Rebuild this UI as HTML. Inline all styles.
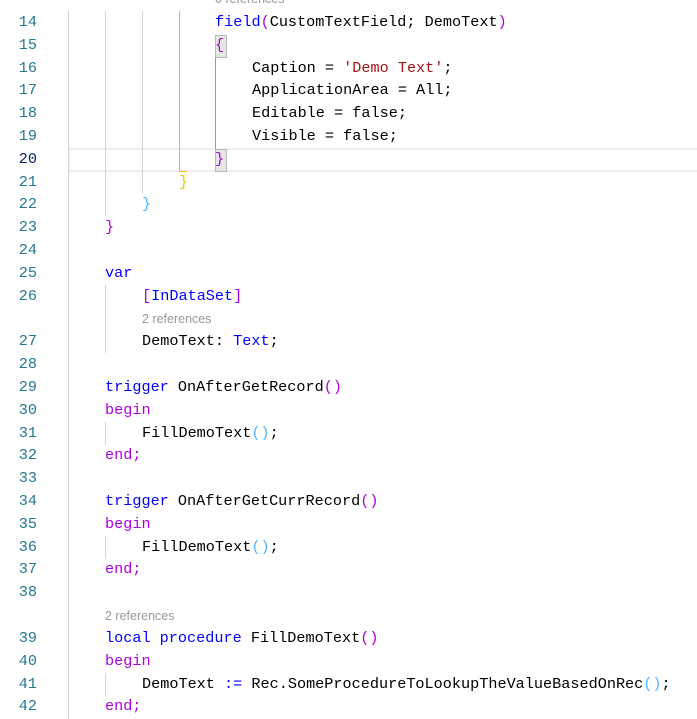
<!DOCTYPE html>
<html><head><style>
html,body{margin:0;padding:0;background:#fff;width:697px;height:719px;overflow:hidden;position:relative}
.r{position:absolute;left:0;height:23px;line-height:23px;white-space:pre;font-family:"Liberation Mono",monospace;font-size:15.2px;color:#000}
.n{position:absolute;width:37px;text-align:right;left:0;color:#237893;font-family:"Liberation Mono",monospace;font-size:15.2px}
.c{position:absolute}
.lens{position:absolute;font-family:"Liberation Sans",sans-serif;font-size:12.5px;color:#999;height:23px;line-height:23px}
.g{position:absolute;width:1px;background:#d3d3d3}
.k{color:#0000ff}.m{color:#af00db}.s{color:#a31515}.t{color:#267f99}.y{color:#f2c200}.b{color:#4fb5ff}
</style></head><body>
<div style="position:absolute;left:68px;top:148px;width:629px;height:20px;border:2px solid #eee;border-right:none"></div>
<div class="g" style="left:68px;top:11px;height:708px"></div>
<div class="g" style="left:105px;top:11px;height:205px"></div>
<div class="g" style="left:142px;top:11px;height:182px"></div>
<div style="position:absolute;left:179px;top:11px;width:1px;height:160px;background:#f2c200"></div>
<div style="position:absolute;left:179px;top:171px;width:8px;height:1px;background:#f2c200"></div>
<div style="position:absolute;left:215px;top:45px;width:1px;height:114px;background:#999"></div>
<div style="position:absolute;left:215px;top:35px;width:10px;height:21px;background:#e3e8e0;border:1px solid #b9b9b9"></div>
<div style="position:absolute;left:215px;top:149px;width:10px;height:21px;background:#e3e8e0;border:1px solid #b9b9b9"></div>
<div class="g" style="left:105px;top:285px;height:68px"></div>
<div class="g" style="left:105px;top:422px;height:23px"></div>
<div class="g" style="left:105px;top:536px;height:23px"></div>
<div class="g" style="left:105px;top:673px;height:23px"></div>

<div class="lens" style="left:215px;top:-12px">0 references</div>
<div class="lens" style="left:142px;top:308px">2 references</div>
<div class="lens" style="left:105px;top:605px">2 references</div>

<div class="r" style="top:11px"><span class="n">14</span><span class="c" style="left:215px"><span class="k">field</span><span class="m">(</span>CustomTextField; DemoText<span class="m">)</span></span></div>
<div class="r" style="top:34px"><span class="n">15</span><span class="c m" style="left:215px">{</span></div>
<div class="r" style="top:57px"><span class="n">16</span><span class="c" style="left:252px">Caption = <span class="s">'Demo Text'</span>;</span></div>
<div class="r" style="top:79px"><span class="n">17</span><span class="c" style="left:252px">ApplicationArea = All;</span></div>
<div class="r" style="top:102px"><span class="n">18</span><span class="c" style="left:252px">Editable = false;</span></div>
<div class="r" style="top:125px"><span class="n">19</span><span class="c" style="left:252px">Visible = false;</span></div>
<div class="r" style="top:148px"><span class="n" style="color:#0b216f">20</span><span class="c m" style="left:215px">}</span></div>
<div class="r" style="top:171px"><span class="n">21</span><span class="c y" style="left:179px">}</span></div>
<div class="r" style="top:193px"><span class="n">22</span><span class="c b" style="left:142px">}</span></div>
<div class="r" style="top:216px"><span class="n">23</span><span class="c m" style="left:105px">}</span></div>
<div class="r" style="top:239px"><span class="n">24</span></div>
<div class="r" style="top:262px"><span class="n">25</span><span class="c k" style="left:105px">var</span></div>
<div class="r" style="top:285px"><span class="n">26</span><span class="c" style="left:142px"><span class="m">[</span><span class="k">InDataSet</span><span class="m">]</span></span></div>
<div class="r" style="top:330px"><span class="n">27</span><span class="c" style="left:142px">DemoText: <span class="k">Text</span>;</span></div>
<div class="r" style="top:353px"><span class="n">28</span></div>
<div class="r" style="top:376px"><span class="n">29</span><span class="c" style="left:105px"><span class="k">trigger</span> OnAfterGetRecord<span class="m">()</span></span></div>
<div class="r" style="top:399px"><span class="n">30</span><span class="c m" style="left:105px">begin</span></div>
<div class="r" style="top:422px"><span class="n">31</span><span class="c" style="left:142px">FillDemoText<span class="b">()</span>;</span></div>
<div class="r" style="top:444px"><span class="n">32</span><span class="c m" style="left:105px">end;</span></div>
<div class="r" style="top:467px"><span class="n">33</span></div>
<div class="r" style="top:490px"><span class="n">34</span><span class="c" style="left:105px"><span class="k">trigger</span> OnAfterGetCurrRecord<span class="m">()</span></span></div>
<div class="r" style="top:513px"><span class="n">35</span><span class="c m" style="left:105px">begin</span></div>
<div class="r" style="top:536px"><span class="n">36</span><span class="c" style="left:142px">FillDemoText<span class="b">()</span>;</span></div>
<div class="r" style="top:558px"><span class="n">37</span><span class="c m" style="left:105px">end;</span></div>
<div class="r" style="top:581px"><span class="n">38</span></div>
<div class="r" style="top:627px"><span class="n">39</span><span class="c" style="left:105px"><span class="k">local procedure</span> FillDemoText<span class="m">()</span></span></div>
<div class="r" style="top:650px"><span class="n">40</span><span class="c m" style="left:105px">begin</span></div>
<div class="r" style="top:673px"><span class="n">41</span><span class="c" style="left:142px">DemoText <span class="k">:=</span> Rec.SomeProcedureToLookupTheValueBasedOnRec<span class="b">()</span>;</span></div>
<div class="r" style="top:695px"><span class="n">42</span><span class="c m" style="left:105px">end;</span></div>
</body></html>
